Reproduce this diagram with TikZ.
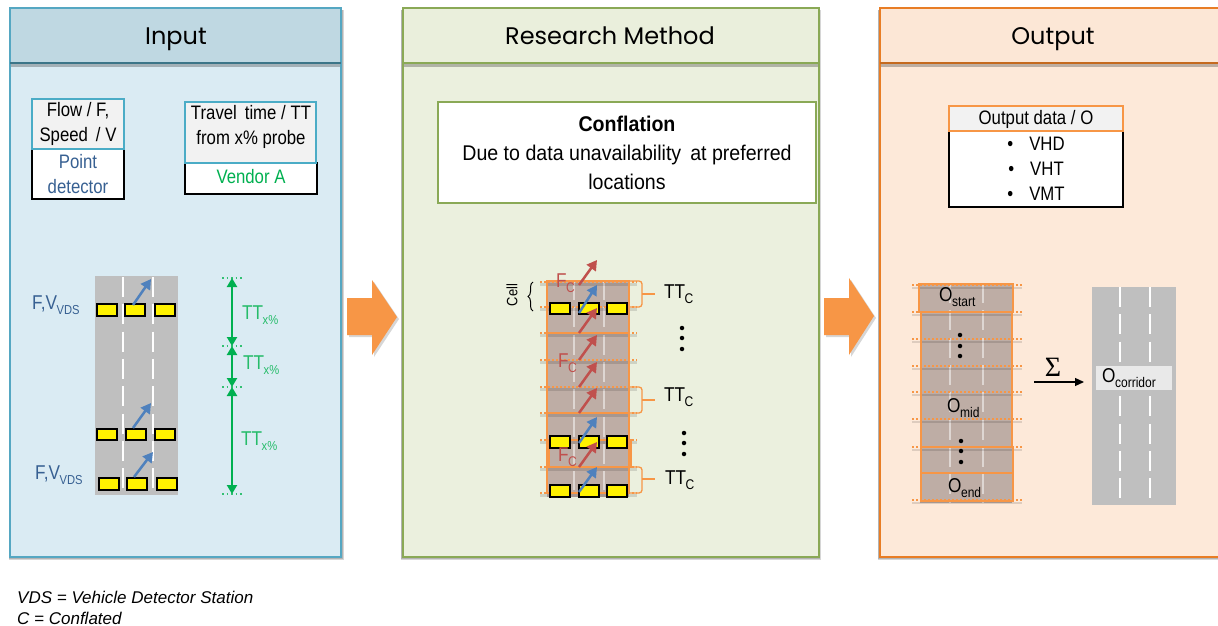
\documentclass[tikz,border=0pt]{standalone}
\usepackage{fontspec}
\setmainfont{Liberation Sans}
\newfontfamily\narrowf[FakeStretch=0.86]{Liberation Sans}
\newfontfamily\midf[FakeStretch=0.92]{Liberation Sans}
\newfontfamily\titlef{Poppins}
\newfontfamily\serifg{Liberation Serif}
\usetikzlibrary{arrows.meta,decorations.pathreplacing}
\definecolor{inbg}{HTML}{DAEBF3}
\definecolor{inhd}{HTML}{BFD8E2}
\definecolor{inln}{HTML}{55A7C2}
\definecolor{rebg}{HTML}{EBF0DE}
\definecolor{rehd}{HTML}{EAEFDC}
\definecolor{reln}{HTML}{8AA956}
\definecolor{oubg}{HTML}{FDE9D9}
\definecolor{ouhd}{HTML}{FCE7D6}
\definecolor{ouln}{HTML}{E87D25}
\definecolor{teal}{HTML}{4BACC6}
\definecolor{bluet}{HTML}{376092}
\definecolor{arrblue}{HTML}{4F81BD}
\definecolor{arrred}{HTML}{C0504D}
\definecolor{greent}{HTML}{00B050}
\definecolor{orng}{HTML}{F79646}
\definecolor{road}{HTML}{BFBFBF}
\definecolor{brownr}{HTML}{BEADA5}
\tikzset{
 x=1pt,y=-1pt,
 panel/.style={draw=#1,line width=1.5pt},
 hdrline/.style={draw=#1,line width=2pt},
 titletxt/.style={font=\titlef\fontsize{24}{28}\selectfont,text=black,inner sep=0pt,anchor=base},
 bodytxt/.style={font=\narrowf\fontsize{19.5}{25}\selectfont,align=center,inner sep=0pt},
 lbl/.style={font=\narrowf\fontsize{20}{24}\selectfont,inner sep=0pt,anchor=west},
 tbox/.style={draw=teal,line width=1.8pt,fill=black!5},
 wbox/.style={draw=black,line width=1.2pt,fill=white},
 yel/.style={draw=black,line width=2pt,fill=yellow},
 lane/.style={draw=white,line width=1.8pt,dash pattern=on 20pt off 7.3pt},
 lanef/.style={draw=white,opacity=.5,line width=1.8pt,dash pattern=on 20pt off 7.3pt},
 bluearr/.style={draw=arrblue,line width=2.5pt,-{Triangle[length=10pt,width=11pt]}},
 redarr/.style={draw=arrred,line width=2.5pt,-{Triangle[length=10pt,width=11pt]}},
 greenarr/.style={draw=greent,line width=2.2pt,{Triangle[length=9pt,width=10pt]}-{Triangle[length=9pt,width=10pt]}},
 gdots/.style={draw=greent!80,line width=1.4pt,dash pattern=on 1.5pt off 3pt},
 odots/.style={draw=orng,line width=1.5pt,dash pattern=on 1.5pt off 2.5pt},
 oshadow/.style={draw=black,opacity=.12,line width=2.5pt},
 orect/.style={draw=orng,line width=1.3pt},
 obrace/.style={draw=orng,line width=1.3pt,rounded corners=3pt},
 blockarr/.style={fill=orng,draw=none},
 dotm/.style={circle,fill=black,inner sep=0pt,minimum size=4.5pt},
 shad/.style={fill=black,opacity=.16},
}
\newcommand{\ybox}[5]{\node[yel,inner sep=0pt,minimum width=#4pt,minimum height=#5pt] (#1) at (#2,#3) {};}
\newcommand{\sbs}[2]{\kern-.5pt\raisebox{-.45ex}{\fontsize{#1}{#1}\selectfont #2}}
\begin{document}
\begin{tikzpicture}
\useasboundingbox (0,0) rectangle (1218,626);
\fill[white] (0,0) rectangle (1218,626);
% ---------- shadows
\fill[shad] (9,10) rectangle (344,560);
\fill[shad] (9,10) rectangle (342.5,558.5);
\fill[shad] (401,10) rectangle (821,560);
\fill[shad] (401,10) rectangle (820,558.5);
\fill[shad] (878,10) rectangle (1218,560);
\fill[shad] (878,10) rectangle (1218,558.5);
% ---------- panels
\fill[inbg] (10,8) rectangle (341,557);
\fill[inhd] (10,8) rectangle (341,63);
\fill[black,opacity=.25] (10,64) rectangle (341,67);
\draw[panel=inln] (10,8) rectangle (341,557);
\draw[hdrline=inln!70!black] (10,63) -- (341,63);
\fill[rebg] (403,8) rectangle (819,557);
\fill[rehd] (403,8) rectangle (819,63);
\fill[black,opacity=.25] (403,64) rectangle (818,67);
\draw[panel=reln] (403,8) rectangle (819,557);
\draw[hdrline=reln] (403,63) -- (819,63);
\fill[oubg] (880,8) rectangle (1218,557);
\fill[ouhd] (880,8) rectangle (1218,63);
\fill[black,opacity=.25] (880,64) rectangle (1218,67);
\draw[panel=ouln] (1219,8) -- (880,8) -- (880,557) -- (1219,557);
\draw[hdrline=ouln!85!black] (880,63) -- (1218,63);
\node[titletxt] (tin) at (176,45) {Input};
\node[titletxt] (tre) at (610,45) {Research Method};
\node[titletxt] (tou) at (1053,45) {Output};
% ---------- input boxes
\draw[wbox] (32,149) rectangle (124,199);
\draw[tbox] (32,99) rectangle (124,149);
\node[bodytxt] (flow) at (78,124) {Flow / F,\\Speed \,/ V};
\node[bodytxt,text=bluet] (pd) at (78,174) {Point\\detector};
\draw[wbox] (185,163) rectangle (317,194);
\draw[tbox] (185,102) rectangle (316,163);
\node[bodytxt] (tt) at (251,127) {Travel \,time / TT\\from x\% probe};
\node[bodytxt,text=greent] (va) at (251,177) {Vendor A};
% ---------- input road
\fill[road] (95,276) rectangle (178,495);
\draw[lane] (123,277) -- (123,493);
\draw[lane] (153,277) -- (153,493);
\ybox{a1}{106.5}{309.5}{20}{12}\ybox{a2}{135}{309.5}{20}{12}\ybox{a3}{164.5}{309.5}{20}{12}
\ybox{b1}{107}{434}{20}{11}\ybox{b2}{136}{434}{20}{11}\ybox{b3}{164.5}{434}{20}{11}
\ybox{c1}{108.5}{483.5}{20}{12}\ybox{c2}{137}{483.5}{20}{12}\ybox{c3}{166.5}{483.5}{20}{12}
\draw[bluearr] (133,305) -- (151,279);
\draw[bluearr] (133,428) -- (151,403);
\draw[bluearr] (134,477) -- (153,452);
\node[lbl,text=bluet] (fv1) at (32,305) {F,V\sbs{13}{VDS}};
\node[lbl,text=bluet] (fv2) at (35,475) {F,V\sbs{13}{VDS}};
% ---------- green travel-time arrows
\coordinate (g0) at (232,278);\coordinate (g1) at (232,346);\coordinate (g2) at (232,387);\coordinate (g3) at (232,494);
\foreach \p in {g0,g1,g2,g3}{\draw[gdots] ([xshift=-10pt]\p) -- ([xshift=12pt]\p);}
\draw[greenarr] (g0) -- (g1);
\draw[greenarr] (g1) -- (g2);
\draw[greenarr] (g2) -- (g3);
\node[lbl,text=greent!85] (t1) at (242,315) {TT\sbs{13}{x\%}};
\node[lbl,text=greent!85] (t2) at (243,365) {TT\sbs{13}{x\%}};
\node[lbl,text=greent!85] (t3) at (241,441) {TT\sbs{13}{x\%}};
% ---------- block arrows
\fill[shad] (349,300) -- (374,300) -- (374,282) -- (399,319) -- (374,357) -- (374,337) -- (349,337) -- cycle;
\fill[blockarr] (347,298) -- (372,298) -- (372,280) -- (397,317) -- (372,355) -- (372,335) -- (347,335) -- cycle;
\fill[shad] (826,300) -- (851,300) -- (851,280) -- (876,318) -- (851,357) -- (851,337) -- (826,337) -- cycle;
\fill[blockarr] (824,298) -- (849,298) -- (849,278) -- (874,316) -- (849,355) -- (849,335) -- (824,335) -- cycle;
% ---------- conflation
\draw[draw=reln,line width=1.8pt,fill=white] (438,102) rectangle (816,203);
\node[bodytxt,font=\midf\fontsize{21.3}{29}\selectfont] (conf) at (627,153) {\textbf{Conflation}\\Due to data unavailability \,at preferred\\locations};
% ---------- conflated road
\fill[brownr] (547,281) rectangle (629,497);
\draw[lanef] (574,280) -- (574,490);
\draw[lanef] (604,280) -- (604,490);
\foreach \yy in {282,307,333,360,387,413,440,467,493}{
  \draw[oshadow] (540,\yy+2.5) -- (637,\yy+2.5);
  \draw[odots] (540,\yy) -- (637,\yy);}
\draw[orect] (547,281) rectangle (629,493);
\draw[orect] (547,333) -- (629,333);
\draw[orect] (547,413) -- (629,413);
\draw[orect] (549,440) rectangle (631,467);
\ybox{d1}{560}{308}{20}{11}\ybox{d2}{588.5}{308}{20}{11}\ybox{d3}{616.5}{308}{20}{11}
\ybox{e1}{560}{441.5}{20}{12}\ybox{e2}{588.5}{441.5}{20}{12}\ybox{e3}{616.5}{441.5}{20}{12}
\ybox{f1}{560}{490.5}{20}{12}\ybox{f2}{588.5}{490.5}{20}{12}\ybox{f3}{616.5}{490.5}{20}{12}
\draw[bluearr] (579,313) -- (597,285);
\draw[bluearr] (579,443) -- (597,417);
\draw[bluearr] (579,492) -- (597,467);
\draw[redarr] (579,285) -- (597,260);
\draw[redarr] (579,333) -- (597,308);
\draw[redarr] (579,360) -- (597,335);
\draw[redarr] (579,387) -- (597,362);
\draw[redarr] (579,413) -- (597,388);
\draw[redarr] (579,467) -- (597,442);
\node[lbl,text=arrred] (fc1) at (556,283) {F\sbs{14}{C}};
\node[lbl,text=arrred] (fc2) at (558,363) {F\sbs{14}{C}};
\node[lbl,text=arrred] (fc3) at (558,457) {F\sbs{14}{C}};
\node[rotate=90,inner sep=0pt,font=\narrowf\fontsize{15}{15}\selectfont] (cell) at (512,295) {Cell};
\draw[line width=1pt,decorate,decoration={brace,amplitude=5pt}] (533,311) -- (533,282);
% braces TT_C
\draw[obrace] (629,281) -- (642,281) -- (642,307) -- (629,307);
\draw[obrace] (642,294) -- (655,294);
\draw[obrace] (629,387) -- (642,387) -- (642,413) -- (629,413);
\draw[obrace] (642,400) -- (655,400);
\draw[obrace] (629,467) -- (642,467) -- (642,493) -- (629,493);
\draw[obrace] (642,479) -- (655,479);
\node[lbl] (ttc1) at (664,294) {TT\sbs{14}{C}};
\node[lbl] (ttc2) at (664,397) {TT\sbs{14}{C}};
\node[lbl] (ttc3) at (665,480) {TT\sbs{14}{C}};
\foreach \n/\xx/\yy in {m1/682/328,m2/682/338,m3/682/349,m4/684/433,m5/684/443,m6/684/454}{\node[dotm] (\n) at (\xx,\yy) {};}
% ---------- output box
\draw[wbox] (949,131) rectangle (1123,207);
\draw[draw=orng,line width=1.8pt,fill=black!5] (949,106) rectangle (1123,131);
\node[bodytxt] (od) at (1036,119) {Output data / O};
\node[bodytxt] (v1) at (1047,144) {\llap{•\hspace{16pt}}VHD};
\node[bodytxt] (v2) at (1047,169) {\llap{•\hspace{16pt}}VHT};
\node[bodytxt] (v3) at (1047,194) {\llap{•\hspace{16pt}}VMT};
% ---------- output road 1
\fill[brownr] (920,283) rectangle (1012,503);
\draw[lanef] (950,283) -- (950,503);
\draw[lanef] (983,283) -- (983,503);
\foreach \yy in {285,312,339,366,392,419,447,500}{
  \draw[oshadow] (912,\yy+3) -- (1022,\yy+3);
  \draw[odots] (912,\yy) -- (1022,\yy);}
\draw[orect] (919,284) rectangle (1013,312);
\draw[orect] (921,312) rectangle (1012,447);
\draw[orect] (921,447) rectangle (1013,473);
\draw[orect] (921,473) rectangle (1013,501);
\node[lbl] (ost) at (939,297) {O\sbs{14}{start}};
\node[lbl] (omi) at (947,408) {O\sbs{14}{mid}};
\node[lbl] (oen) at (948,488) {O\sbs{14}{end}};
\foreach \n/\xx/\yy in {n1/960/335,n2/960/346,n3/960/356,n4/961/441,n5/961/451,n6/961/462}{\node[dotm] (\n) at (\xx,\yy) {};}
% ---------- sum arrow
\node[inner sep=0pt,font=\serifg\fontsize{28}{28}\selectfont] (sig) at (1053,367) {\char"03A3};
\coordinate (sstart) at (1034,382);
\coordinate (send) at (1084,382);
\draw[black,line width=1.2pt,-{Triangle[length=9pt,width=8pt]}] (sstart) -- (send);
% ---------- output road 2
\fill[road] (1092,287) rectangle (1176,505);
\draw[lane] (1120,287) -- (1120,502);
\draw[lane] (1150,287) -- (1150,502);
\fill[white!65!road] (1096,366) rectangle (1172,390);
\node[lbl] (oco) at (1102,378) {O\sbs{14}{corridor}};
% ---------- notes
\node[inner sep=0pt,anchor=west,font=\itshape\fontsize{17}{17}\selectfont] (n1t) at (17,597) {VDS = Vehicle Detector Station};
\node[inner sep=0pt,anchor=west,font=\itshape\fontsize{17}{17}\selectfont] (n2t) at (17,618) {C = Conflated};
\end{tikzpicture}
\end{document}
